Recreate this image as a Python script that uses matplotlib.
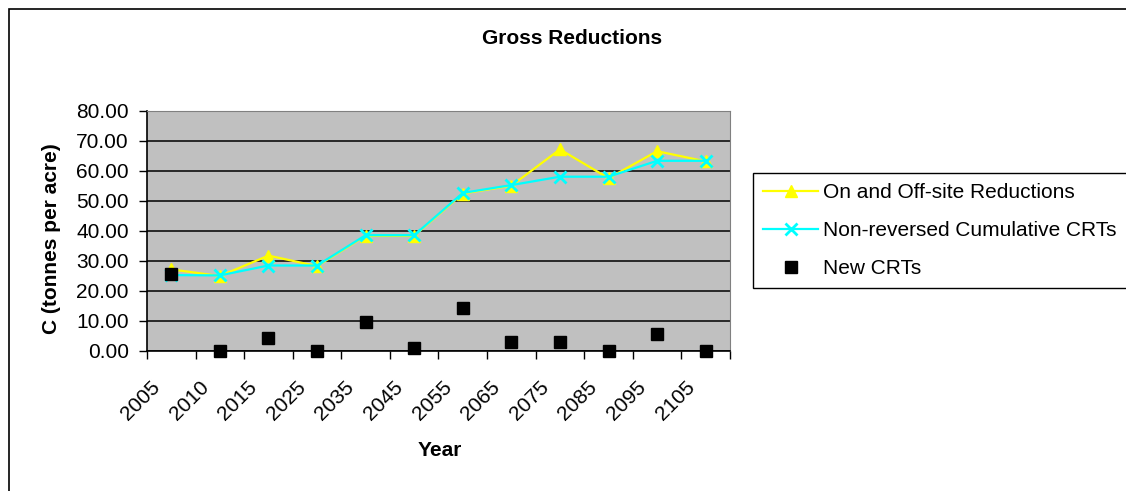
import matplotlib
matplotlib.use("Agg")
import matplotlib.pyplot as plt
from matplotlib.patches import Rectangle

plt.rcParams['font.family'] = ['Liberation Sans', 'DejaVu Sans']

years = ['2005', '2010', '2015', '2025', '2035', '2045', '2055',
         '2065', '2075', '2085', '2095', '2105']
on_off_site = [27.2, 25.0, 31.8, 28.3, 38.4, 38.4, 52.5, 55.1, 67.2, 57.6, 66.6, 63.2]
non_reversed = [25.3, 25.2, 28.5, 28.5, 38.6, 38.6, 52.7, 55.3, 58.1, 58.1, 63.4, 63.4]
new_crts = [25.6, 0.0, 4.2, 0.0, 9.6, 1.1, 14.3, 2.9, 2.9, 0.0, 5.6, 0.0]

W, H = 1126, 491
fig = plt.figure(figsize=(W / 100, H / 100), dpi=100)

# chart border (Excel chart area)
fig.patches.append(Rectangle((9 / W, -0.2), 1.5, 1 - 9 / H + 0.2, transform=fig.transFigure,
                             fill=False, edgecolor='black', linewidth=1.2))

ax = fig.add_axes([147 / W, (H - 351) / H, (730 - 147) / W, (351 - 111) / H])
ax.set_facecolor('#C0C0C0')

x = list(range(len(years)))
ax.plot(x, on_off_site, color='#FFFF00', lw=1.6, marker='^', ms=8,
        mec='#FFFF00', label='On and Off-site Reductions', zorder=3)
ax.plot(x, non_reversed, color='#00FFFF', lw=1.6, marker='x', ms=8, mew=2,
        label='Non-reversed Cumulative CRTs', zorder=4)
ax.plot(x, new_crts, ls='none', color='black', marker='s', ms=8,
        label='New CRTs', zorder=5, clip_on=False)

ax.set_xlim(-0.5, len(years) - 0.5)
ax.set_ylim(0, 80)
ax.set_yticks(range(0, 81, 10))
ax.set_yticklabels(['%.2f' % v for v in range(0, 81, 10)], fontsize=15)
ax.yaxis.grid(True, color='black', lw=1.1)
ax.set_axisbelow(True)
ax.tick_params(axis='y', length=6, width=1, pad=7)

# labels sit a little left of the category centre, like Excel
ax.set_xticks([i - 0.43 for i in x])
ax.set_xticklabels(years, fontsize=15, rotation=45, ha='right', va='top',
                   rotation_mode='anchor')
ax.set_xticks([i - 0.5 for i in range(len(years) + 1)], minor=True)
ax.tick_params(axis='x', which='major', length=0, pad=19)
ax.tick_params(axis='x', which='minor', length=6, width=1)

for side in ['top', 'right']:
    ax.spines[side].set_color('#808080')
for side in ['left', 'bottom']:
    ax.spines[side].set_color('black')
    ax.spines[side].set_linewidth(1.2)

fig.text(572 / W, 1 - 38 / H, 'Gross Reductions', ha='center', va='center',
         fontsize=15, fontweight='bold')
fig.text(440 / W, 1 - 451 / H, 'Year', ha='center', va='center',
         fontsize=15, fontweight='bold')
fig.text(52 / W, 1 - 239 / H, 'C (tonnes per acre)', ha='center', va='center',
         rotation=90, fontsize=15, fontweight='bold')

leg = fig.legend(loc='upper left', bbox_to_anchor=(753 / W, 1 - 173 / H),
                 bbox_transform=fig.transFigure, fontsize=15, frameon=True,
                 fancybox=False, edgecolor='black', framealpha=1,
                 handlelength=2.6, handletextpad=0.25, labelspacing=0.9,
                 borderpad=0.5, borderaxespad=0)
leg.get_frame().set_linewidth(1.0)

fig.savefig('out.png', dpi=100)
